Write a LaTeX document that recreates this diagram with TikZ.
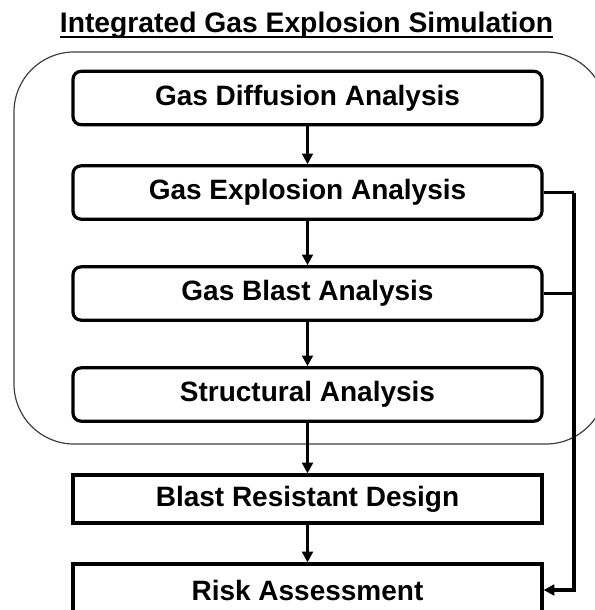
\documentclass[tikz,border=0pt]{standalone}
\usepackage{fontspec}
\setmainfont{Liberation Sans}
\usetikzlibrary{arrows.meta}
\begin{document}
\begin{tikzpicture}[x=0.75pt,y=-0.75pt,
  boxtext/.style={font=\fontsize{21}{25}\selectfont\bfseries},
  roundbox/.style={draw=black, line width=2.4pt, rounded corners=6pt, minimum width=351.75pt, minimum height=40pt, inner sep=0pt, boxtext},
  squarebox/.style={draw=black, line width=2.4pt, minimum width=351.75pt, minimum height=36pt, inner sep=0pt, boxtext},
  flow/.style={line width=2.3pt, -{Triangle[length=8pt,width=8pt]}},
  rail/.style={line width=2.3pt}]
\useasboundingbox (0,0) rectangle (594,610);
\fill[white] (0,0) rectangle (594,610);
% group frame
\node[draw=black!75, line width=0.9pt, rounded corners=45pt, minimum width=444pt, minimum height=294pt, inner sep=0pt] (group) at (310,248) {};
% title
\node[font=\fontsize{21.2}{25}\selectfont\bfseries, anchor=base, inner sep=0pt] (title) at (306.5,33) {Integrated Gas Explosion Simulation};
\draw[line width=1.1pt] ([yshift=-3pt]title.base west) -- ([yshift=-3pt]title.base east);
% boxes
\node[roundbox] (b1) at (307.5,98) {Gas Diffusion Analysis};
\node[roundbox] (b2) at (307.5,192.5) {Gas Explosion Analysis};
\node[roundbox] (b3) at (307.5,293.5) {Gas Blast Analysis};
\node[roundbox] (b4) at (307.5,394.5) {Structural Analysis};
\node[squarebox] (b5) at (307.5,499) {Blast Resistant Design};
\node[squarebox, minimum height=39pt] (b6) at (307.5,590) {Risk Assessment};
% arrows
\draw[flow] (b1) -- (b2);
\draw[flow] (b2) -- (b3);
\draw[flow] (b3) -- (b4);
\draw[flow] (b4) -- (b5);
\draw[flow] (b5) -- (b6);
% side rail
\coordinate (r1) at (574,192.5);
\coordinate (r2) at (574,293.5);
\draw[rail] (b2.east) -- (r1);
\draw[rail] (b3.east) -- (r2);
\draw[flow] (r1) |- (b6.east);
\end{tikzpicture}
\end{document}
